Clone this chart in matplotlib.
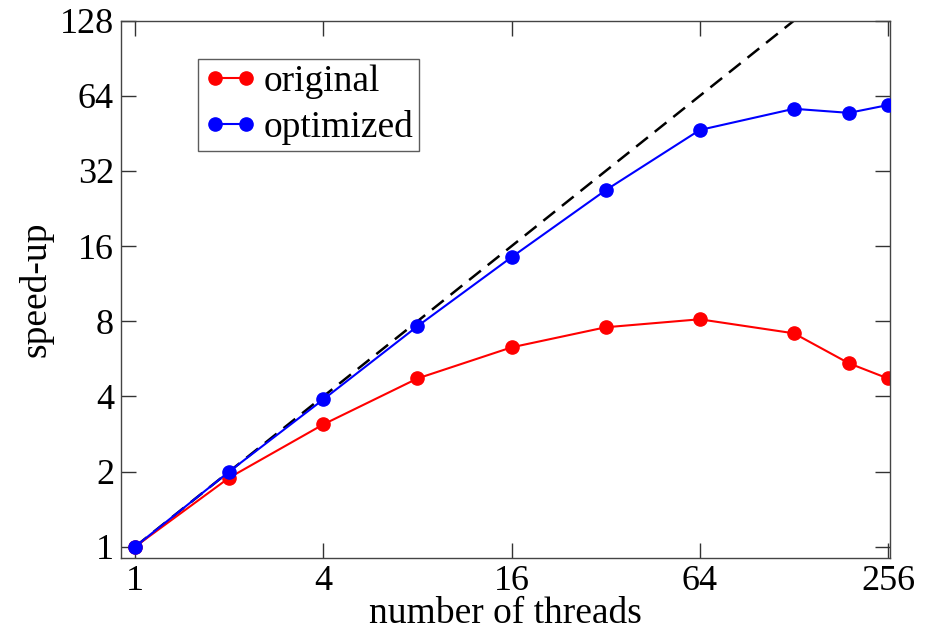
import matplotlib
matplotlib.use("Agg")
import matplotlib.pyplot as plt
from matplotlib.ticker import FixedLocator, FixedFormatter, NullLocator

# ── Data ──────────────────────────────────────────────────────────────────
threads = [1, 2, 4, 8, 16, 32, 64, 128, 192, 256]
original = [1.0, 1.89, 3.09, 4.72, 6.29, 7.57, 8.15, 7.16, 5.43, 4.72]
optimized = [1.0, 2.0, 3.89, 7.64, 14.45, 26.8, 46.7, 56.8, 54.7, 58.8]
ideal_x = [1, 256]
ideal_y = [1, 256]

x_ticks = [1, 4, 16, 64, 256]
y_ticks = [1, 2, 4, 8, 16, 32, 64, 128]

plt.rcParams["font.family"] = ["Liberation Serif", "DejaVu Serif"]

fig = plt.figure(figsize=(9.34, 6.31), dpi=100)
ax = fig.add_axes([0.1296, 0.1162, 0.8233, 0.851])

ax.plot(ideal_x, ideal_y, color="black", linestyle=(0, (6, 3.5)), linewidth=1.8, zorder=1)
ax.plot(threads, original, color="#ff0000", marker="o", markersize=9.5,
        linewidth=1.5, label="original", zorder=2)
ax.plot(threads, optimized, color="#0000ff", marker="o", markersize=9.5,
        linewidth=1.5, label="optimized", zorder=3)

ax.set_xscale("log", base=2)
ax.set_yscale("log", base=2)
ax.set_xlim(0.902, 259.8)
ax.set_ylim(0.904, 128)

ax.xaxis.set_major_locator(FixedLocator(x_ticks))
ax.xaxis.set_major_formatter(FixedFormatter([str(v) for v in x_ticks]))
ax.yaxis.set_major_locator(FixedLocator(y_ticks))
ax.yaxis.set_major_formatter(FixedFormatter([str(v) for v in y_ticks]))
ax.xaxis.set_minor_locator(NullLocator())
ax.yaxis.set_minor_locator(NullLocator())

ax.tick_params(which="major", direction="in", length=11, width=1.0,
               top=True, right=True, labelsize=26, color="#333333")
ax.tick_params(axis="x", pad=5)
ax.tick_params(axis="y", pad=5)
for s in ax.spines.values():
    s.set_linewidth(1.0)
    s.set_color("#444444")

ax.set_xlabel("number of threads", fontsize=27, labelpad=-1)
ax.set_ylabel("speed-up", fontsize=27, labelpad=5)

leg = ax.legend(loc="upper left", bbox_to_anchor=(0.100, 0.929), borderaxespad=0,
                numpoints=2, fontsize=27, frameon=True, fancybox=False,
                edgecolor="#333333", handlelength=1.43, handletextpad=0.16,
                borderpad=0.15, labelspacing=0.3)
leg.get_frame().set_linewidth(1.0)

fig.savefig("out.png", dpi=100)
